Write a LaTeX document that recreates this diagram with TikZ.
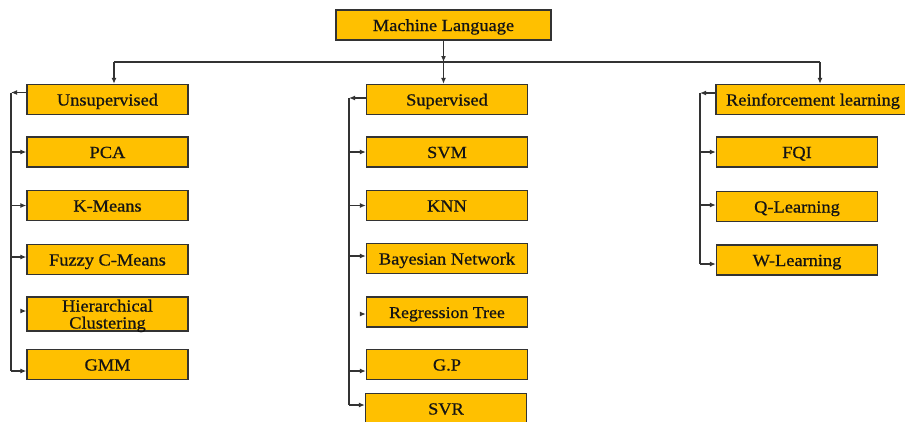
\documentclass[tikz,border=0pt]{standalone}
\usepackage{fontspec}
\setmainfont{Liberation Serif}[FakeStretch=1.08,FakeBold=0.7]
\usetikzlibrary{arrows.meta}
\definecolor{boxfill}{HTML}{FFC000}
\definecolor{boxline}{HTML}{333333}
\definecolor{txt}{HTML}{141414}
\tikzset{
  catbox/.style={draw=boxline, line width=1.3pt, fill=boxfill, minimum width=161pt,
    minimum height=30pt, inner sep=0pt, text=txt, align=center,
    text height=14pt, text depth=2pt,
    font=\fontsize{17}{17}\selectfont},
  link/.style={draw=boxline, line width=1.2pt},
  arr/.style={link, -{Latex[length=6pt,width=5pt]}}
}
\begin{document}
\begin{tikzpicture}[x=1pt, y=-1pt]
\useasboundingbox (0,0) rectangle (905,421);
\clip (0,0) rectangle (905,421);

% root
\node[catbox, minimum width=215pt] (ml) at (443.5,25) {Machine Language};

% unsupervised column
\node[catbox] (uns)   at (107.5,99.5) {Unsupervised};
\node[catbox] (pca)   at (107.5,152)  {PCA};
\node[catbox] (km)    at (107.5,205.5){K-Means};
\node[catbox] (fcm)   at (107.5,259.5){Fuzzy C-Means};
\node[catbox, minimum height=34pt, text height=31pt, text depth=2pt] (hier) at (107.5,314) {Hierarchical\\Clustering};
\node[catbox] (gmm)   at (107.5,364.5){GMM};

% supervised column
\node[catbox] (sup)   at (447,99.5)  {Supervised};
\node[catbox] (svm)   at (447,152)   {SVM};
\node[catbox] (knn)   at (447,205.5) {KNN};
\node[catbox] (bn)    at (447,258.5) {Bayesian Network};
\node[catbox, font=\fontsize{16.5}{16.5}\selectfont] (rt) at (447,312) {Regression Tree};
\node[catbox] (gp)    at (447,364.5) {G.P};
\node[catbox] (svr)   at (446,408.5) {SVR};

% reinforcement column
\node[catbox, minimum width=194pt] (rl) at (813,99.5) {Reinforcement learning};
\node[catbox] (fqi)   at (797,152)   {FQI};
\node[catbox] (ql)    at (797,206.5) {Q-Learning};
\node[catbox] (wl)    at (797,260)   {W-Learning};

% top distribution bus
\coordinate (busL) at (114,62);
\coordinate (busR) at (820,62);
\draw[link] (busL) -- (busR);
\draw[arr] (ml.south) -- (ml.south |- 0,62);
\draw[arr] (ml.south |- 0,62) -- (ml.south |- sup.north);
\draw[arr] (busL) -- (busL |- uns.north);
\draw[arr] (busR) -- (busR |- rl.north);

% unsupervised rail
\coordinate (uT) at (11,92.5);
\coordinate (uB) at (11,371);
\draw[arr] ([yshift=7pt]uns.west) -- (uT);
\draw[link] (uT) -- (uB);
\draw[arr] (uT |- pca.west) -- (pca.west);
\draw[arr] (uT |- km.west) -- (km.west);
\draw[arr] (11,257) -- (fcm.west |- 0,257);
\draw[arr] ([xshift=-5pt,yshift=3pt]hier.west) -- ([yshift=3pt]hier.west);
\draw[arr] (uB) -- (gmm.west |- uB);

% supervised rail
\coordinate (sT) at (349,98);
\coordinate (sB) at (349,405);
\draw[arr] ([yshift=1.5pt]sup.west) -- (sT);
\draw[link] (sT) -- (sB);
\draw[arr] (sT |- svm.west) -- (svm.west);
\draw[arr] (sT |- knn.west) -- (knn.west);
\draw[arr] (349,256) -- (bn.west |- 0,256);
\draw[arr] ([xshift=-5pt,yshift=-2pt]rt.west) -- ([yshift=-2pt]rt.west);
\draw[arr] (349,371) -- (gp.west |- 0,371);
\draw[arr] (sB) -- (svr.west |- sB);

% reinforcement rail
\coordinate (rT) at (700,93);
\coordinate (rB) at (700,264);
\draw[arr] ([yshift=6.5pt]rl.west) -- (rT);
\draw[link] (rT) -- (rB);
\draw[arr] (rT |- fqi.west) -- (fqi.west);
\draw[arr] (700,205) -- (ql.west |- 0,205);
\draw[arr] (rB) -- (wl.west |- rB);
\end{tikzpicture}
\end{document}
